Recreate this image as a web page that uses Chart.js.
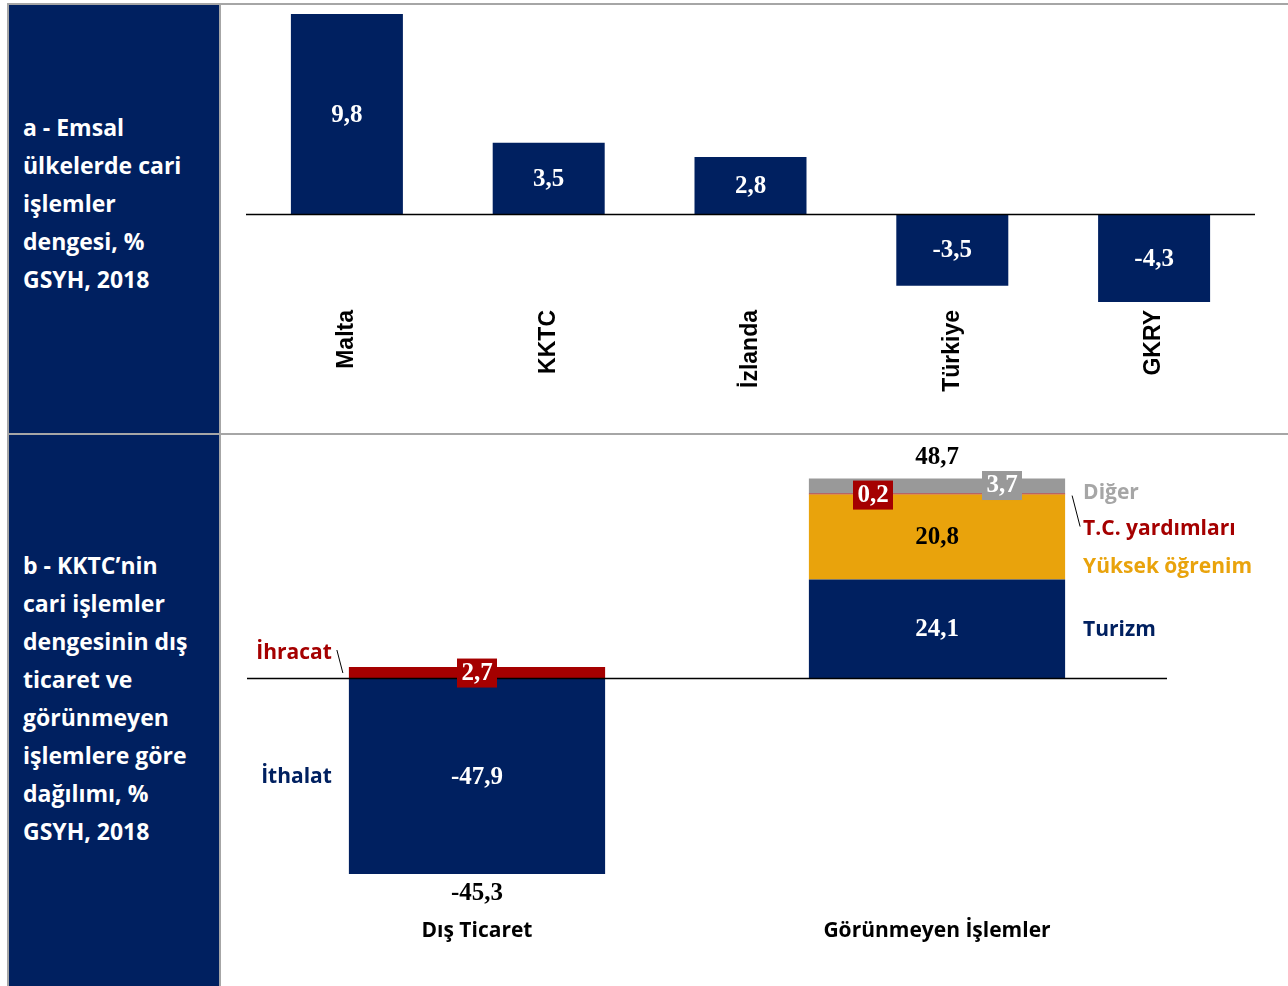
<!DOCTYPE html>
<html>
<head>
<meta charset="utf-8">
<script src="https://cdn.jsdelivr.net/npm/chart.js@4/dist/chart.umd.min.js"></script>
<style>
body{margin:0;width:1288px;height:986px;position:relative;background:#fff;overflow:hidden;font-family:"Open Sans",sans-serif}
.line{position:absolute;background:#a6a6a6}
.side{position:absolute;left:9px;width:210px;background:#002060}
.side div{position:absolute;left:14px;width:182px;color:#fff;font-weight:bold;font-size:23px;line-height:38px}
canvas{position:absolute;left:221px}
</style>
</head>
<body>
<div class="side" style="top:5px;height:428px"><div style="top:103px">a - Emsal ülkelerde cari işlemler dengesi, % GSYH, 2018</div></div>
<div class="side" style="top:435px;height:551px"><div style="top:111px">b - KKTC’nin cari işlemler dengesinin dış ticaret ve görünmeyen işlemlere göre dağılımı, % GSYH, 2018</div></div>
<div class="line" style="left:7px;top:3px;width:1281px;height:2px"></div>
<div class="line" style="left:7px;top:433px;width:1281px;height:2px"></div>
<div class="line" style="left:7px;top:3px;width:2px;height:983px"></div>
<div class="line" style="left:219px;top:3px;width:2px;height:983px"></div>
<canvas id="topChart" width="1067" height="428" style="top:5px"></canvas>
<canvas id="bottomChart" width="1067" height="551" style="top:435px"></canvas>
<script>
// a - emsal ülkeler
const countries = ["Malta", "KKTC", "İzlanda", "Türkiye", "GKRY"];
const balance = [9.8, 3.5, 2.8, -3.5, -4.3];

// b - KKTC dağılımı
const groups = ["Dış Ticaret", "Görünmeyen İşlemler"];
const ithalat = [-47.9, null];
const ihracat = [2.7, null];
const turizm = [null, 24.1];
const yuksekOgrenim = [null, 20.8];
const tcYardim = [null, 0.2];
const diger = [null, 3.7];
const totals = [-45.3, 48.7];

const NAVY = "#002060", RED = "#a50000", ORANGE = "#e9a30c", GRAY = "#999999";
const fmt = v => v.toFixed(1).replace(".", ",");
const numFont = 'bold 25px "Liberation Serif"';
const txtFont = 'bold 21px "Open Sans"';

function zeroLine(chart){
    const ctx = chart.ctx, a = chart.chartArea;
    const y = Math.round(chart.scales.y.getPixelForValue(0)) + 0.5;
    ctx.save();
    ctx.strokeStyle = "#000";
    ctx.lineWidth = 1.5;
    ctx.beginPath();
    ctx.moveTo(a.left, y);
    ctx.lineTo(a.right, y);
    ctx.stroke();
    ctx.restore();
}

function text(ctx, s, x, y, color, font, align){
    ctx.font = font;
    ctx.fillStyle = color;
    ctx.textAlign = align || "center";
    ctx.textBaseline = "middle";
    ctx.fillText(s, x, y);
}

function box(ctx, s, x, y, fill){
    ctx.fillStyle = fill;
    ctx.fillRect(x - 20, y - 14, 40, 29);
    text(ctx, s, x, y + 1, "#fff", numFont);
}

// TOP CHART
new Chart(document.getElementById("topChart"), {
    type: "bar",
    data: {
        labels: countries,
        datasets: [{
            data: balance,
            backgroundColor: NAVY,
            barPercentage: 0.555,
            categoryPercentage: 1
        }]
    },
    options: {
        responsive: false,
        animation: false,
        devicePixelRatio: 1,
        layout: { padding: { top: 9, left: 25, right: 33, bottom: 0 } },
        plugins: { legend: { display: false }, tooltip: { enabled: false } },
        scales: {
            x: {
                grid: { display: false, drawTicks: false },
                border: { display: false },
                ticks: {
                    maxRotation: 90, minRotation: 90, padding: 8,
                    color: "#000",
                    font: { family: "Liberation Sans", weight: "bold", size: 23 }
                },
                afterFit: s => { s.height = 131; }
            },
            y: { display: false, min: -4.3, max: 9.8 }
        }
    },
    plugins: [{
        id: "topLabels",
        afterDatasetsDraw(chart){
            zeroLine(chart);
            const ctx = chart.ctx;
            ctx.save();
            chart.getDatasetMeta(0).data.forEach((bar, i) => {
                text(ctx, fmt(balance[i]), bar.x, (bar.y + bar.base) / 2 + 1, "#fff", numFont);
            });
            ctx.restore();
        }
    }]
});

// BOTTOM CHART
new Chart(document.getElementById("bottomChart"), {
    type: "bar",
    data: {
        labels: groups,
        datasets: [
            { label: "İthalat", data: ithalat, backgroundColor: NAVY },
            { label: "İhracat", data: ihracat, backgroundColor: RED },
            { label: "Turizm", data: turizm, backgroundColor: NAVY },
            { label: "Yüksek öğrenim", data: yuksekOgrenim, backgroundColor: ORANGE },
            { label: "T.C. yardımları", data: tcYardim, backgroundColor: RED },
            { label: "Diğer", data: diger, backgroundColor: GRAY }
        ].map(d => Object.assign(d, { barPercentage: 0.557, categoryPercentage: 1, borderWidth: 0 }))
    },
    options: {
        responsive: false,
        animation: false,
        devicePixelRatio: 1,
        layout: { padding: { top: 14, left: 26, right: 121, bottom: 0 } },
        plugins: { legend: { display: false }, tooltip: { enabled: false } },
        scales: {
            x: {
                stacked: true,
                grid: { display: false, drawTicks: false },
                border: { display: false },
                ticks: {
                    padding: 44, color: "#000",
                    font: { family: "Open Sans", weight: "bold", size: 21 }
                },
                afterFit: s => { s.height = 112; }
            },
            y: { stacked: true, display: false, min: -47.9, max: 56 }
        }
    },
    plugins: [{
        id: "bottomLabels",
        afterDatasetsDraw(chart){
            zeroLine(chart);
            const ctx = chart.ctx;
            const el = (d, i) => chart.getDatasetMeta(d).data[i];
            const mid = b => (b.y + b.base) / 2;
            ctx.save();

            // Dış Ticaret
            const ith = el(0, 0), ihr = el(1, 0);
            const left = ith.x - ith.width / 2;
            text(ctx, fmt(ithalat[0]), ith.x, mid(ith) + 2, "#fff", numFont);
            box(ctx, fmt(ihracat[0]), ihr.x, mid(ihr), RED);
            text(ctx, fmt(totals[0]), ith.x, ith.y + 20, "#000", numFont);
            text(ctx, "İthalat", left - 17, mid(ith) + 1, NAVY, txtFont, "right");
            text(ctx, "İhracat", left - 17, ihr.y - 14, RED, txtFont, "right");
            ctx.strokeStyle = "#000"; ctx.lineWidth = 1;
            ctx.beginPath(); ctx.moveTo(left - 12, ihr.y - 17); ctx.lineTo(left - 6, ihr.y + 6); ctx.stroke();

            // Görünmeyen İşlemler
            const tur = el(2, 1), yuk = el(3, 1), tc = el(4, 1), dig = el(5, 1);
            const right = tur.x + tur.width / 2;
            text(ctx, fmt(turizm[1]), tur.x, mid(tur) + 1, "#fff", numFont);
            text(ctx, fmt(yuksekOgrenim[1]), yuk.x, mid(yuk) + 1, "#000", numFont);
            box(ctx, fmt(tcYardim[1]), tc.x - 64, tc.y + 1, RED);
            box(ctx, fmt(diger[1]), dig.x + 65, mid(dig) - 1, GRAY);
            text(ctx, fmt(totals[1]), dig.x, dig.y - 21, "#000", numFont);

            text(ctx, "Diğer", right + 18, mid(dig) + 7, "#a6a6a6", txtFont, "left");
            text(ctx, "T.C. yardımları", right + 18, tc.y + 35, RED, txtFont, "left");
            text(ctx, "Yüksek öğrenim", right + 18, mid(yuk) + 30, ORANGE, txtFont, "left");
            text(ctx, "Turizm", right + 18, mid(tur) + 1, NAVY, txtFont, "left");
            ctx.beginPath(); ctx.moveTo(right + 7, tc.y + 2); ctx.lineTo(right + 15, tc.y + 33); ctx.stroke();

            ctx.restore();
        }
    }]
});
</script>
</body>
</html>
